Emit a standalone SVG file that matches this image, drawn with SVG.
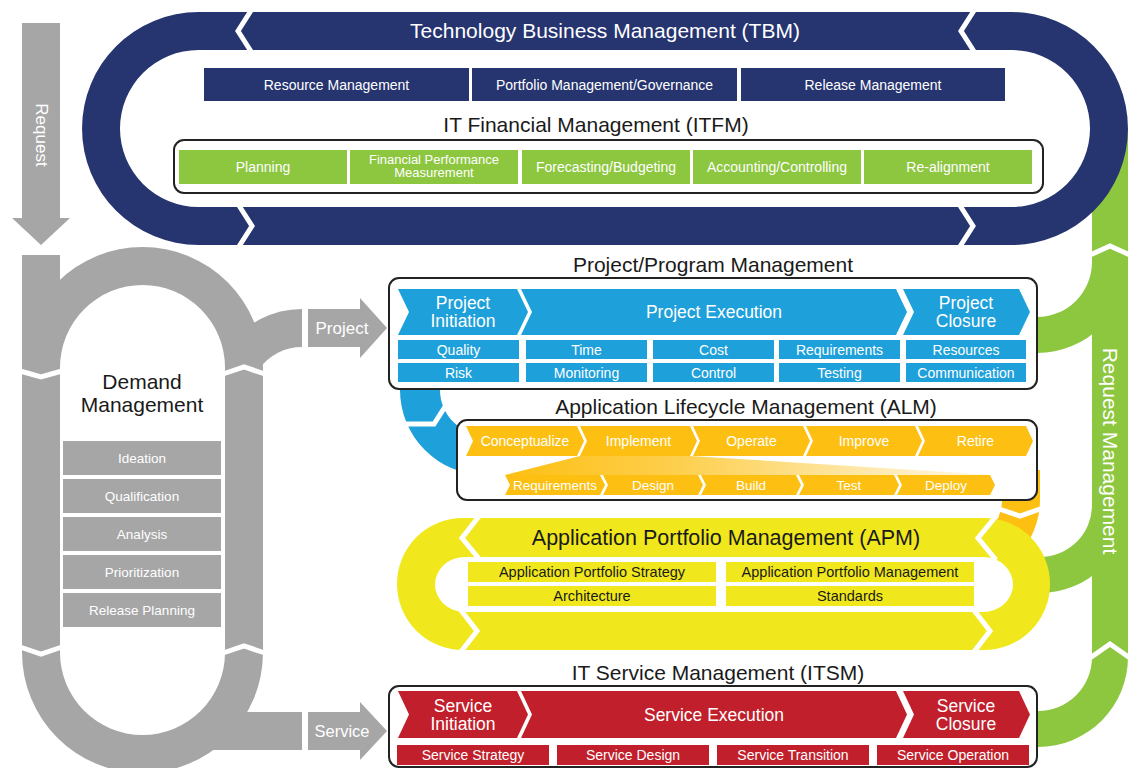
<svg xmlns="http://www.w3.org/2000/svg" width="1138" height="768" viewBox="0 0 1138 768">
<style>
.t{font-family:"Liberation Sans",Arial,sans-serif;text-anchor:middle;dominant-baseline:central}
.w{fill:#fff}
.k{fill:#1a1a1a}
.h{font-size:21px}
.s{font-size:14px}
.m{font-size:17.5px}
.box{fill:#fff;stroke:#222;stroke-width:2}
.cut{fill:none;stroke:#fff;stroke-width:5}
.navy{fill:#26346f}
.grn{fill:#8dc63f}
.gry{fill:#a6a6a6}
.blu{fill:#1ea0da}
.gld{fill:#fdbf12}
.yel{fill:#f0e81c}
.red{fill:#c11f2b}
</style>
<defs>
<linearGradient id="fun" x1="0" y1="0" x2="1" y2="0">
<stop offset="0" stop-color="#fdbf12" stop-opacity="1"/>
<stop offset="0.35" stop-color="#fdbf12" stop-opacity="0.75"/>
<stop offset="1" stop-color="#fdbf12" stop-opacity="0.08"/>
</linearGradient>
</defs>

<g id="request-management">
<rect class="grn" x="1092" y="128" width="36" height="529"/>
<path class="grn" d="M1092,262 A55,55 0 0 1 1037,317 L1030,317 L1030,353 L1037,353 A91,91 0 0 0 1128,262 Z"/>
<path class="grn" d="M1092,505 A52,52 0 0 1 1040,557 L1030,557 L1030,593 L1040,593 A88,88 0 0 0 1128,505 Z"/>
<path class="grn" d="M1092,657 A54,54 0 0 1 1038,711 L1030,711 L1030,747 L1038,747 A90,90 0 0 0 1128,657 Z"/>
<polyline class="cut" points="1090,255 1110,246 1130,255"/>
<polyline class="cut" points="1090,658 1110,644 1130,658"/>
<text class="t w h" transform="translate(1110,451) rotate(90)">Request Management</text>
</g>

<g id="tbm">
<path class="navy" fill-rule="evenodd" d="M198.5,12 H1011.5 A116.5,116.5 0 0 1 1011.5,245 H198.5 A116.5,116.5 0 0 1 198.5,12 Z M198.5,50 H1011.5 A78.5,78.5 0 0 1 1011.5,207 H198.5 A78.5,78.5 0 0 1 198.5,50 Z"/>
<polyline class="cut" stroke-width="6" points="252,9 238,31 252,53"/>
<polyline class="cut" stroke-width="6" points="975,9 961,31 975,53"/>
<polyline class="cut" stroke-width="6" points="238,204 252,226 238,248"/>
<polyline class="cut" stroke-width="6" points="959,204 973,226 959,248"/>
<text class="t w h" x="605" y="30">Technology Business Management (TBM)</text>
<rect class="navy" x="204" y="68" width="265" height="33"/>
<rect class="navy" x="472" y="68" width="265" height="33"/>
<rect class="navy" x="741" y="68" width="264" height="33"/>
<text class="t w s" x="336.5" y="84.5">Resource Management</text>
<text class="t w s" x="604.5" y="84.5">Portfolio Management/Governance</text>
<text class="t w s" x="873" y="84.5">Release Management</text>
</g>

<g id="itfm">
<text class="t k h" x="596" y="124">IT Financial Management (ITFM)</text>
<rect class="box" x="174" y="140" width="869" height="53" rx="10"/>
<rect class="grn" x="179" y="150" width="168" height="34"/>
<rect class="grn" x="350" y="150" width="168" height="34"/>
<rect class="grn" x="522" y="150" width="168" height="34"/>
<rect class="grn" x="693" y="150" width="168" height="34"/>
<rect class="grn" x="864" y="150" width="168" height="34"/>
<text class="t w s" x="263" y="167">Planning</text>
<text class="t w" font-size="13" x="434" y="159.5">Financial Performance</text>
<text class="t w" font-size="13" x="434" y="172.5">Measurement</text>
<text class="t w s" x="606" y="167">Forecasting/Budgeting</text>
<text class="t w s" x="777" y="167">Accounting/Controlling</text>
<text class="t w s" x="948" y="167">Re-alignment</text>
</g>

<g id="request-arrow">
<polygon class="gry" points="22,23 60,23 60,218 70,218 41,245 12,218 22,218"/>
<text class="t w" font-size="17" transform="translate(41,135) rotate(90)">Request</text>
</g>

<g id="demand-management">
<rect class="gry" x="22" y="255" width="38" height="398"/>
<path class="gry" d="M22,367.5 A120.5,120.5 0 0 1 263,367.5 L225,367.5 A82.5,82.5 0 0 0 60,367.5 Z"/>
<rect class="gry" x="225" y="367" width="38" height="286"/>
<path class="gry" d="M22,652.5 A120.5,120.5 0 0 0 263,652.5 L225,652.5 A82.5,82.5 0 0 1 60,652.5 Z"/>
<rect class="gry" x="205" y="712" width="97" height="38"/>
<path class="gry" d="M302,309 A91,91 0 0 0 227.5,347.8 L258.6,369.6 A53,53 0 0 1 302,347 Z"/>
<polyline class="cut" points="20,371 41,377 62,371"/>
<polyline class="cut" points="223,374 244,367 265,374"/>
<polyline class="cut" points="20,647 41,654 62,647"/>
<polyline class="cut" points="223,653 244,646 265,653"/>
<text class="t k h" x="142" y="381">Demand</text>
<text class="t k h" x="142" y="404">Management</text>
<rect class="gry" x="63" y="441" width="158" height="34"/>
<rect class="gry" x="63" y="479" width="158" height="34"/>
<rect class="gry" x="63" y="517" width="158" height="34"/>
<rect class="gry" x="63" y="555" width="158" height="34"/>
<rect class="gry" x="63" y="593" width="158" height="34"/>
<text class="t w" font-size="13.5" x="142" y="458">Ideation</text>
<text class="t w" font-size="13.5" x="142" y="496">Qualification</text>
<text class="t w" font-size="13.5" x="142" y="534">Analysis</text>
<text class="t w" font-size="13.5" x="142" y="572">Prioritization</text>
<text class="t w" font-size="13.5" x="142" y="610">Release Planning</text>
</g>

<g id="connectors">
<polygon class="gry" points="308,309 360,309 360,298 387,328 360,358 360,347 308,347"/>
<text class="t w" font-size="17" x="342" y="328">Project</text>
<polygon class="gry" points="308,712 360,712 360,702 387,731 360,760 360,750 308,750"/>
<text class="t w" font-size="16.5" x="342" y="731">Service</text>
<path class="blu" d="M400,380 L400,390 A85,85 0 0 0 485,475 L485,435 A45,45 0 0 1 440,390 L440,380 Z"/>
<polyline class="cut" points="403,424 434,424 448,402"/>
<path class="gld" d="M1040,470 L1040,500 A80,80 0 0 1 960,580 L960,542 A42,42 0 0 0 1002,500 L1002,470 Z"/>
<polyline class="cut" points="999,509 1020,516 1043,508"/>
</g>

<g id="project-program-management">
<text class="t k h" x="713" y="264">Project/Program Management</text>
<rect class="box" x="389" y="278" width="648" height="111" rx="10"/>
<polygon class="blu" points="398,289 517,289 528,312 517,335 398,335 409,312"/>
<polygon class="blu" points="521,289 896,289 907,312 896,335 521,335 532,312"/>
<polygon class="blu" points="903,289 1019,289 1030,312 1019,335 903,335 914,312"/>
<text class="t w m" x="463" y="303">Project</text>
<text class="t w m" x="463" y="321">Initiation</text>
<text class="t w m" x="714" y="312">Project Execution</text>
<text class="t w m" x="966" y="303">Project</text>
<text class="t w m" x="966" y="321">Closure</text>
<rect class="blu" x="398" y="340" width="121" height="19"/>
<rect class="blu" x="526" y="340" width="121" height="19"/>
<rect class="blu" x="653" y="340" width="121" height="19"/>
<rect class="blu" x="779" y="340" width="121" height="19"/>
<rect class="blu" x="906" y="340" width="120" height="19"/>
<rect class="blu" x="398" y="363" width="121" height="19"/>
<rect class="blu" x="526" y="363" width="121" height="19"/>
<rect class="blu" x="653" y="363" width="121" height="19"/>
<rect class="blu" x="779" y="363" width="121" height="19"/>
<rect class="blu" x="906" y="363" width="120" height="19"/>
<text class="t w s" x="458.5" y="349.5">Quality</text>
<text class="t w s" x="586.5" y="349.5">Time</text>
<text class="t w s" x="713.5" y="349.5">Cost</text>
<text class="t w s" x="839.5" y="349.5">Requirements</text>
<text class="t w s" x="966" y="349.5">Resources</text>
<text class="t w s" x="458.5" y="372.5">Risk</text>
<text class="t w s" x="586.5" y="372.5">Monitoring</text>
<text class="t w s" x="713.5" y="372.5">Control</text>
<text class="t w s" x="839.5" y="372.5">Testing</text>
<text class="t w s" x="966" y="372.5">Communication</text>
</g>

<g id="application-lifecycle-management">
<text class="t k h" x="746" y="406">Application Lifecycle Management (ALM)</text>
<rect class="box" x="457" y="420" width="580" height="80" rx="10"/>
<polygon fill="url(#fun)" points="580,456 690,456 995,475 505,475"/>
<polygon class="gld" points="466,426 577,426 584,441 577,456 466,456 473,441"/>
<polygon class="gld" points="580,426 690,426 697,441 690,456 580,456 587,441"/>
<polygon class="gld" points="693,426 803,426 810,441 803,456 693,456 700,441"/>
<polygon class="gld" points="806,426 915,426 922,441 915,456 806,456 813,441"/>
<polygon class="gld" points="918,426 1026,426 1033,441 1026,456 918,456 925,441"/>
<text class="t w s" x="525" y="441">Conceptualize</text>
<text class="t w s" x="638.5" y="441">Implement</text>
<text class="t w s" x="751.5" y="441">Operate</text>
<text class="t w s" x="864" y="441">Improve</text>
<text class="t w s" x="975.5" y="441">Retire</text>
<polygon class="gld" points="505,475 600,475 605,485 600,495 505,495 510,485"/>
<polygon class="gld" points="603,475 698,475 703,485 698,495 603,495 608,485"/>
<polygon class="gld" points="701,475 796,475 801,485 796,495 701,495 706,485"/>
<polygon class="gld" points="799,475 894,475 899,485 894,495 799,495 804,485"/>
<polygon class="gld" points="897,475 990,475 995,485 990,495 897,495 902,485"/>
<text class="t w" font-size="13.5" x="555" y="485">Requirements</text>
<text class="t w" font-size="13.5" x="653" y="485">Design</text>
<text class="t w" font-size="13.5" x="751" y="485">Build</text>
<text class="t w" font-size="13.5" x="849" y="485">Test</text>
<text class="t w" font-size="13.5" x="946" y="485">Deploy</text>
</g>

<g id="application-portfolio-management">
<rect class="yel" x="397" y="518" width="653" height="132" rx="66"/>
<rect fill="#fff" x="435" y="557" width="578" height="55" rx="30" ry="27.5"/>
<polyline class="cut" points="480,515 462,538 480,560"/>
<polyline class="cut" points="997,515 978,538 996,560"/>
<polyline class="cut" points="460,609 477,631 460,653"/>
<polyline class="cut" points="973,609 990,631 973,653"/>
<text class="t k" font-size="21.5" x="726" y="538">Application Portfolio Management (APM)</text>
<rect class="yel" x="468" y="562" width="248" height="20"/>
<rect class="yel" x="726" y="562" width="248" height="20"/>
<rect class="yel" x="468" y="586" width="248" height="20"/>
<rect class="yel" x="726" y="586" width="248" height="20"/>
<text class="t k" font-size="14.5" x="592" y="572">Application Portfolio Strategy</text>
<text class="t k" font-size="14.5" x="850" y="572">Application Portfolio Management</text>
<text class="t k" font-size="14.5" x="592" y="596">Architecture</text>
<text class="t k" font-size="14.5" x="850" y="596">Standards</text>
</g>

<g id="it-service-management">
<text class="t k h" x="718" y="672">IT Service Management (ITSM)</text>
<rect class="box" x="389" y="686" width="648" height="81" rx="10"/>
<polygon class="red" points="398,691 517,691 528,714.5 517,738 398,738 409,714.5"/>
<polygon class="red" points="521,691 896,691 907,714.5 896,738 521,738 532,714.5"/>
<polygon class="red" points="903,691 1019,691 1030,714.5 1019,738 903,738 914,714.5"/>
<text class="t w m" x="463" y="706">Service</text>
<text class="t w m" x="463" y="724">Initiation</text>
<text class="t w m" x="714" y="715">Service Execution</text>
<text class="t w m" x="966" y="706">Service</text>
<text class="t w m" x="966" y="724">Closure</text>
<rect class="red" x="397" y="745" width="152" height="20"/>
<rect class="red" x="557" y="745" width="152" height="20"/>
<rect class="red" x="717" y="745" width="152" height="20"/>
<rect class="red" x="877" y="745" width="152" height="20"/>
<text class="t w s" x="473" y="755">Service Strategy</text>
<text class="t w s" x="633" y="755">Service Design</text>
<text class="t w s" x="793" y="755">Service Transition</text>
<text class="t w s" x="953" y="755">Service Operation</text>
</g>
</svg>
